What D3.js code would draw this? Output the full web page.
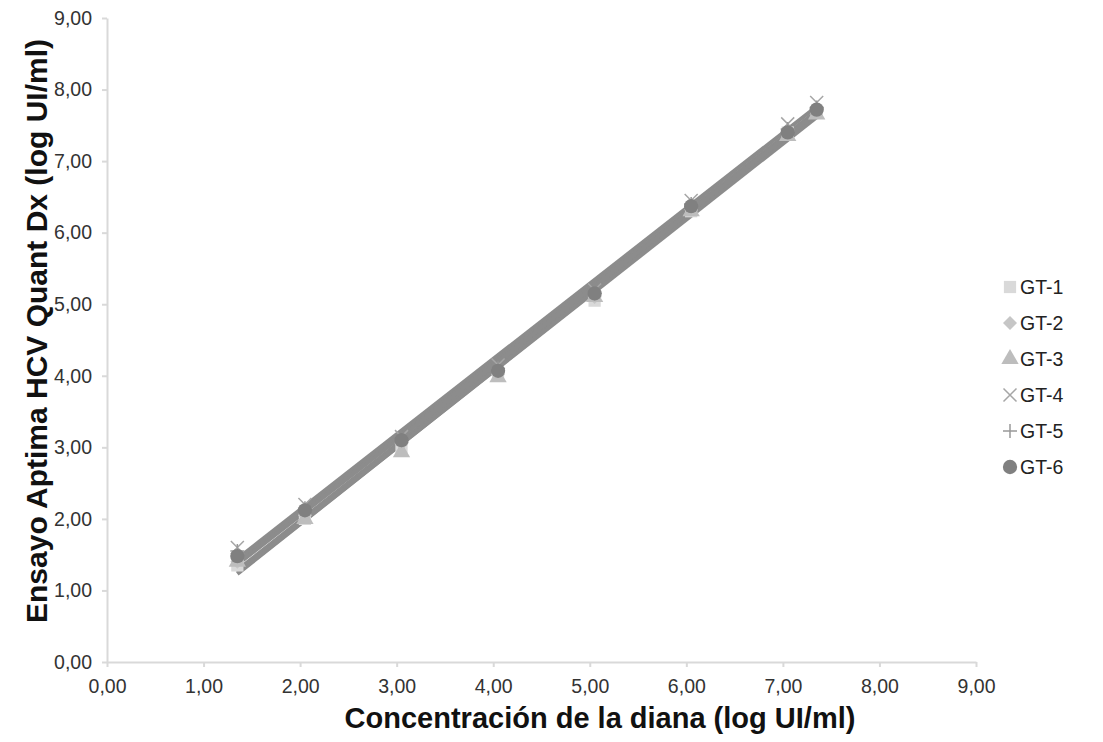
<!DOCTYPE html>
<html>
<head>
<meta charset="utf-8">
<script src="https://cdn.jsdelivr.net/npm/d3@7"></script>
<style>
  body { margin: 0; background: #fff; }
  svg { font-family: "Liberation Sans", Arial, sans-serif; }
</style>
</head>
<body>
<svg id="chart"></svg>
<script>
const xTargets = [1.35, 2.05, 3.05, 4.05, 5.05, 6.05, 7.05, 7.35];
const seriesNames = ["GT-1", "GT-2", "GT-3", "GT-4", "GT-5", "GT-6"];
const gt1 = [1.35, 2.00, 3.00, 4.00, 5.05, 6.30, 7.40, 7.68];
const gt2 = [1.40, 2.05, 3.05, 4.02, 5.10, 6.32, 7.42, 7.70];
const gt3 = [1.40, 2.00, 2.93, 3.98, 5.10, 6.30, 7.35, 7.65];
const gt4 = [1.60, 2.20, 3.15, 4.15, 5.20, 6.45, 7.52, 7.82];
const gt5 = [1.55, 2.15, 3.10, 4.10, 5.15, 6.40, 7.45, 7.75];
const gt6 = [1.48, 2.12, 3.10, 4.07, 5.15, 6.37, 7.40, 7.72];
const seriesValues = [gt1, gt2, gt3, gt4, gt5, gt6];
const seriesColors = ["#d9d9d9", "#c6c6c6", "#bdbdbd", "#a6a6a6", "#999999", "#808080"];
const symbolTypes = ["square", "diamond", "triangle", "cross", "plus", "circle"];
const tickValues = [0, 1, 2, 3, 4, 5, 6, 7, 8, 9];

const width = 1103;
const height = 742;
const margin = {left: 107, right: 127, top: 18, bottom: 80};

const svg = d3.select("#chart")
              .attr("width", width)
              .attr("height", height);

const x = d3.scaleLinear().domain([0, 9]).range([margin.left, width - margin.right]);
const y = d3.scaleLinear().domain([0, 9]).range([height - margin.bottom, margin.top]);
const fmt = (d) => d3.format(".2f")(d).replace(".", ",");

// axes
const xAxis = svg.append("g")
    .attr("transform", `translate(0,${y(0)})`)
    .call(d3.axisBottom(x).tickValues(tickValues).tickFormat(fmt).tickSize(5).tickSizeOuter(0));
const yAxis = svg.append("g")
    .attr("transform", `translate(${x(0)},0)`)
    .call(d3.axisLeft(y).tickValues(tickValues).tickFormat(fmt).tickSize(5).tickSizeOuter(0));

[xAxis, yAxis].forEach(ax => {
  ax.select(".domain").attr("stroke", "#d9d9d9").attr("stroke-width", 2);
  ax.selectAll(".tick line").attr("stroke", "#d9d9d9").attr("stroke-width", 2);
  ax.selectAll(".tick text").attr("fill", "#333").style("font-size", "19.5px")
    .style("font-family", "'Liberation Sans', Arial, sans-serif");
});
xAxis.selectAll(".tick text").attr("y", 17).attr("dy", "0.71em");
yAxis.selectAll(".tick text").attr("x", -15);

// trend lines (least squares per series)
function fit(xs, ys) {
  const mx = d3.mean(xs), my = d3.mean(ys);
  let num = 0, den = 0;
  xs.forEach((v, i) => { num += (v - mx) * (ys[i] - my); den += (v - mx) * (v - mx); });
  const b = num / den;
  return {a: my - b * mx, b: b};
}
const xMin = d3.min(xTargets), xMax = d3.max(xTargets);

const trend = svg.append("g");
seriesValues.forEach((vals, i) => {
  const f = fit(xTargets, vals);
  trend.append("line")
    .attr("x1", x(xMin)).attr("y1", y(f.a + f.b * xMin))
    .attr("x2", x(xMax)).attr("y2", y(f.a + f.b * xMax))
    .attr("stroke", "#8c8c8c")
    .attr("stroke-width", 4);
});

// markers
const symMap = {
  square: d3.symbolSquare, triangle: d3.symbolTriangle, circle: d3.symbolCircle
};
function drawMarker(g, type, color, cx, cy, scale) {
  const s = scale || 1;
  if (type === "cross") {
    const r = 6.5 * s;
    g.append("path")
      .attr("d", `M${cx - r},${cy - r}L${cx + r},${cy + r}M${cx - r},${cy + r}L${cx + r},${cy - r}`)
      .attr("stroke", color).attr("stroke-width", 1.5).attr("fill", "none");
  } else if (type === "plus") {
    const r = 7 * s;
    g.append("path")
      .attr("d", `M${cx - r},${cy}L${cx + r},${cy}M${cx},${cy - r}L${cx},${cy + r}`)
      .attr("stroke", color).attr("stroke-width", 1.5).attr("fill", "none");
  } else if (type === "diamond") {
    const r = 7 * s;
    g.append("path")
      .attr("d", `M${cx},${cy - r}L${cx + r},${cy}L${cx},${cy + r}L${cx - r},${cy}Z`)
      .attr("fill", color);
  } else {
    const size = {square: 150, triangle: 130, circle: 160}[type] * s * s;
    g.append("path")
      .attr("d", d3.symbol().type(symMap[type]).size(size)())
      .attr("transform", `translate(${cx},${cy})`)
      .attr("fill", color);
  }
}

const marks = svg.append("g");
seriesValues.forEach((vals, i) => {
  vals.forEach((v, j) => {
    drawMarker(marks, symbolTypes[i], seriesColors[i], x(xTargets[j]), y(v));
  });
});

// legend
const legend = svg.append("g");
seriesNames.forEach((name, i) => {
  const ly = 287 + i * 36;
  drawMarker(legend, symbolTypes[i], seriesColors[i], 1010, ly, 1);
  legend.append("text")
    .attr("x", 1020).attr("y", ly)
    .attr("dy", "0.36em")
    .style("font-size", "19.5px")
    .attr("fill", "#222")
    .text(name);
});

// axis titles
svg.append("text")
  .attr("x", 600).attr("y", 728)
  .attr("text-anchor", "middle")
  .style("font-size", "29px").style("font-weight", "bold")
  .attr("fill", "#111")
  .text("Concentración de la diana (log UI/ml)");

svg.append("text")
  .attr("transform", `translate(47,331) rotate(-90)`)
  .attr("text-anchor", "middle")
  .style("font-size", "30px").style("font-weight", "bold")
  .attr("fill", "#111")
  .text("Ensayo Aptima HCV Quant Dx (log UI/ml)");
</script>
</body>
</html>
